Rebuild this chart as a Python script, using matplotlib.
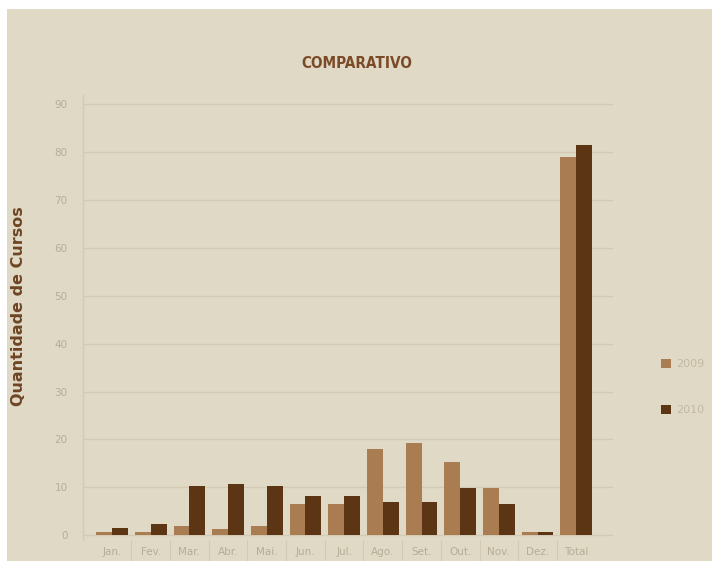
import matplotlib.pyplot as plt
from matplotlib.patches import Rectangle
import numpy as np

meses = ['Jan.', 'Fev.', 'Mar.', 'Abr.', 'Mai.', 'Jun.', 'Jul.', 'Ago.', 'Set.', 'Out.', 'Nov.', 'Dez.', 'Total']
cursos_2009 = [0.7, 0.7, 1.9, 1.2, 1.9, 6.5, 6.5, 18.1, 19.3, 15.2, 9.9, 0.7, 78.9]
cursos_2010 = [1.6, 2.3, 10.2, 10.7, 10.2, 8.1, 8.1, 6.9, 6.9, 9.9, 6.6, 0.7, 81.4]

bg = '#e0d9c6'
cor_2009 = '#a97c52'
cor_2010 = '#5c3515'
cor_texto = '#b8ad95'
cor_grade = '#d4cab4'

fig = plt.figure(figsize=(7.12, 5.61), dpi=100, facecolor='white')
# fundo bege com margem branca em cima e a esquerda
fig.patches.append(Rectangle((7/712, 0), 705/712, 552/561, transform=fig.transFigure,
                             facecolor=bg, edgecolor='none', zorder=-10))

ax = fig.add_axes([83/712, 21/561, 530/712, 445/561])
ax.set_facecolor('none')

x = np.arange(len(meses))
w = 0.41
ax.bar(x - w/2, cursos_2009, w, color=cor_2009, label='2009', zorder=3)
ax.bar(x + w/2, cursos_2010, w, color=cor_2010, label='2010', zorder=3)

ax.set_xlim(-0.75, 12.95)
ax.set_ylim(-1.0, 91.9)
ax.set_yticks(range(0, 100, 10))
ax.yaxis.grid(True, color=cor_grade, lw=1, zorder=0)
ax.tick_params(axis='y', length=0, pad=11, labelsize=7.5, labelcolor=cor_texto)

ax.set_xticks(x)
ax.set_xticklabels(meses)
ax.set_xticks(x[:-1] + 0.5, minor=True)
ax.tick_params(axis='x', which='major', length=0, pad=5, labelsize=7.5, labelcolor=cor_texto)
ax.tick_params(axis='x', which='minor', length=15, width=0.8, color=cor_grade)

for s in ['top', 'right', 'bottom']:
    ax.spines[s].set_visible(False)
ax.spines['left'].set_color(cor_grade)
ax.spines['left'].set_linewidth(1)

fig.text(357/712, (561-64)/561, 'COMPARATIVO', ha='center', va='center',
         fontsize=11, fontweight='bold', color='#7b4b28', fontstretch='condensed')
fig.text(19/712, (561-306)/561, 'Quantidade de Cursos', rotation=90, ha='center', va='center',
         fontsize=11.5, fontweight='bold', color='#6e4524')

leg = fig.legend(loc='center left', bbox_to_anchor=(651/712, (561-387)/561), frameon=False,
                 handlelength=0.9, handleheight=0.9, handletextpad=0.5, labelspacing=3.2,
                 fontsize=8)
for t in leg.get_texts():
    t.set_color('#c4b9a2')

fig.savefig('out.png', dpi=100, facecolor='white')
